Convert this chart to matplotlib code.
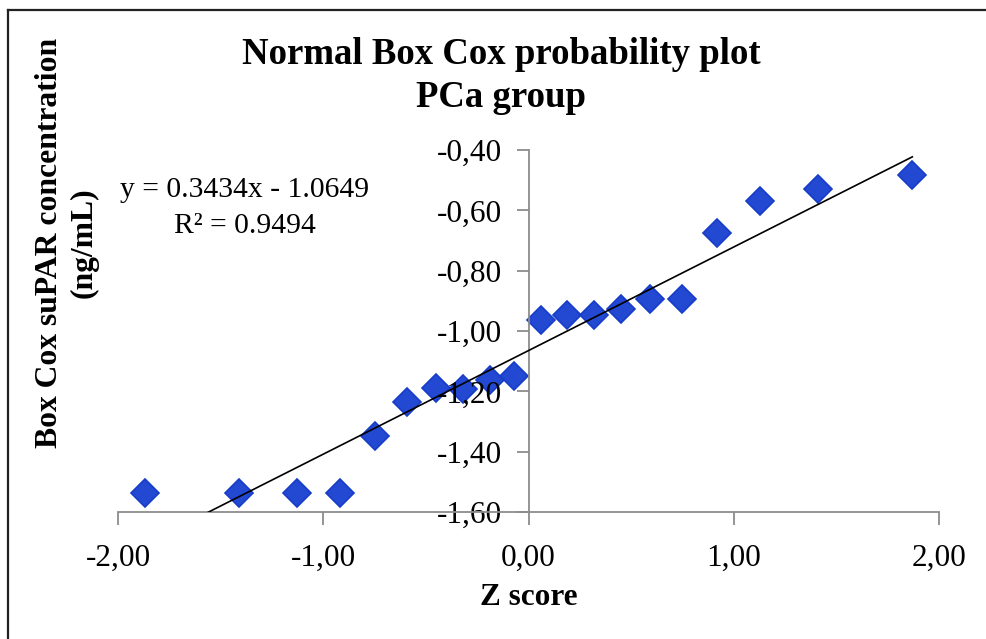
import matplotlib.pyplot as plt
from matplotlib.lines import Line2D
from matplotlib.ticker import FuncFormatter, MultipleLocator

# normal scores and Box-Cox transformed suPAR values, PCa group
z_score = [-1.87, -1.41, -1.13, -0.92, -0.75, -0.59, -0.45, -0.32, -0.19, -0.07,
           0.06, 0.19, 0.32, 0.45, 0.59, 0.75, 0.92, 1.13, 1.41, 1.87]
boxcox_supar = [-1.536, -1.536, -1.536, -1.536, -1.348, -1.237, -1.189, -1.191, -1.163, -1.150,
                -0.962, -0.946, -0.946, -0.926, -0.895, -0.895, -0.676, -0.569, -0.530, -0.483]

slope = 0.3434
intercept = -1.0649
r_squared = 0.9494

plt.rcParams['font.family'] = ['Liberation Serif', 'DejaVu Serif']

fig = plt.figure(figsize=(9.86, 6.39), dpi=100)
W, H = 986, 639
ax = fig.add_axes([118 / W, 1 - 512 / H, (939 - 118) / W, (512 - 150) / H])

# markers first so the tick labels sit above them
ax.plot(z_score, boxcox_supar, linestyle='none', marker='D', markersize=14.5,
        markerfacecolor='#2349D2', markeredgecolor='#173CC8', markeredgewidth=1.2,
        zorder=1, clip_on=False)

x0, x1 = min(z_score), max(z_score)
ax.plot([x0, x1], [slope * x0 + intercept, slope * x1 + intercept],
        color='black', linewidth=1.2, zorder=3)

ax.set_xlim(-2.0, 2.0)
ax.set_ylim(-1.60, -0.40)
ax.xaxis.set_major_locator(MultipleLocator(1.0))
ax.yaxis.set_major_locator(MultipleLocator(0.2))
comma = FuncFormatter(lambda v, pos: f'{v:.2f}'.replace('.', ','))
ax.xaxis.set_major_formatter(comma)
ax.yaxis.set_major_formatter(comma)

axis_grey = '#8C8C8C'
ax.spines['left'].set_position(('data', 0))
ax.spines['top'].set_visible(False)
ax.spines['right'].set_visible(False)
for s in ('left', 'bottom'):
    ax.spines[s].set_color(axis_grey)
    ax.spines[s].set_linewidth(1.3)
ax.tick_params(axis='both', direction='out', length=9, width=1.3, color=axis_grey,
               labelsize=22.5, labelcolor='black')
ax.tick_params(axis='x', pad=14)
ax.tick_params(axis='y', pad=10)
ax.patch.set_visible(False)

fig.text(501 / W, 1 - 64 / H, 'Normal Box Cox probability plot', ha='center',
         va='baseline', fontsize=26.5, fontweight='bold')
fig.text(501 / W, 1 - 107 / H, 'PCa group', ha='center', va='baseline',
         fontsize=26.5, fontweight='bold')

fig.text(529 / W, 1 - 605 / H, 'Z score', ha='center', va='baseline',
         fontsize=22.5, fontweight='bold')
fig.text(67 / W, 1 - 243 / H, 'Box Cox suPAR concentration\n(ng/mL)', ha='center',
         va='center', rotation=90, fontsize=22.8, fontweight='bold',
         multialignment='center', linespacing=1.25)

fig.text(245 / W, 1 - 197 / H, f'y = {slope}x - {abs(intercept)}', ha='center',
         va='baseline', fontsize=21.3)
fig.text(245 / W, 1 - 233 / H, f'R² = {r_squared}', ha='center', va='baseline',
         fontsize=21.3)

# chart area border
fig.add_artist(Line2D([7.5 / W, 7.5 / W], [0, 1 - 10 / H], color='#222222', linewidth=1.6))
fig.add_artist(Line2D([7.5 / W, 1], [1 - 10 / H, 1 - 10 / H], color='#222222', linewidth=1.6))

fig.savefig('out.png', dpi=100)
